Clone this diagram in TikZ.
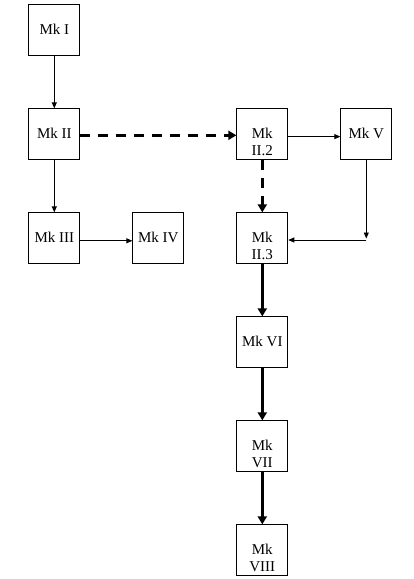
\documentclass[tikz,border=0pt]{standalone}
\usepackage{fontspec}
\setmainfont{Liberation Serif}
\usetikzlibrary{arrows.meta,calc}
\begin{document}
\begin{tikzpicture}[x=1pt,y=-1pt,
 box/.style={draw,line width=0.9pt,minimum size=51pt,inner sep=0pt},
 txt/.style={anchor=base,inner sep=0pt,font=\fontsize{15}{17}\selectfont},
 lite/.style={line width=0.9pt,-{Triangle[length=6pt,width=5pt]}},
 heavy/.style={line width=3pt,-{Triangle[length=8pt,width=9pt]}},
 dsh/.style={heavy,dash pattern=on 10pt off 8pt}]
\useasboundingbox (0,0) rectangle (413,579);
% boxes
\node[box] (b1) at (54.3,30.3) {};
\node[box] (b2) at (54.3,134.3) {};
\node[box] (b3) at (54.3,238.3) {};
\node[box] (b4) at (158.3,238.3) {};
\node[box] (b22) at (262.3,134.3) {};
\node[box] (b5) at (366.3,134.3) {};
\node[box] (b23) at (262.3,238.3) {};
\node[box] (b6) at (262.3,342.3) {};
\node[box] (b7) at (262.3,446.3) {};
\node[box] (b8) at (262.3,550.3) {};
% texts
\node[txt] (t1) at ($(b1.center)+(0,4)$) {Mk I};
\node[txt] (t2) at ($(b2.center)+(0,4)$) {Mk II};
\node[txt] (t3) at ($(b3.center)+(0,4)$) {Mk III};
\node[txt] (t4) at ($(b4.center)+(0,4)$) {Mk IV};
\node[txt] (t22a) at ($(b22.center)+(0,4)$) {Mk};
\node[txt] (t22b) at ($(b22.center)+(0,20.7)$) {II.2};
\node[txt] (t5) at ($(b5.center)+(0,4)$) {Mk V};
\node[txt] (t23a) at ($(b23.center)+(0,4)$) {Mk};
\node[txt] (t23b) at ($(b23.center)+(0,20.7)$) {II.3};
\node[txt] (t6) at ($(b6.center)+(0,4)$) {Mk VI};
\node[txt] (t7a) at ($(b7.center)+(0,4)$) {Mk};
\node[txt] (t7b) at ($(b7.center)+(0,20.7)$) {VII};
\node[txt] (t8a) at ($(b8.center)+(0,4)$) {Mk};
\node[txt] (t8b) at ($(b8.center)+(0,20.7)$) {VIII};
% connectors
\draw[lite] (b1.south) -- (b2.north);
\draw[lite] (b2.south) -- (b3.north);
\draw[lite] ($(b3.east)+(0,2.5)$) -- ($(b4.west)+(0,2.5)$);
\draw[dsh] ($(b2.east)+(0,1)$) -- ($(b22.west)+(0,1)$);
\draw[lite] ($(b22.east)+(0,2.3)$) -- ($(b5.west)+(0,2.3)$);
\draw[dsh] (b22.south) -- (b23.north);
\coordinate (vend) at (366.3,238.5);
\coordinate (hstart) at (366.3,240);
\draw[lite] (b5.south) -- (vend);
\draw[lite] (hstart) -- (b23.east |- hstart);
\draw[heavy] (b23.south) -- (b6.north);
\draw[heavy] (b6.south) -- (b7.north);
\draw[heavy] (b7.south) -- (b8.north);
\end{tikzpicture}
\end{document}
